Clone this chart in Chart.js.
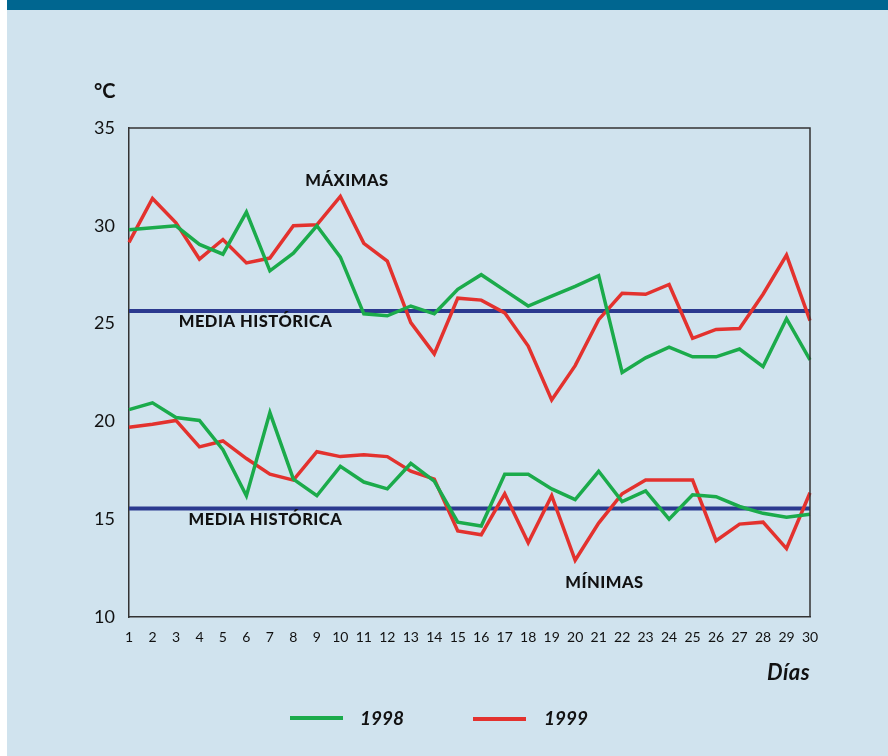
<!DOCTYPE html>
<html>
<head>
<meta charset="utf-8">
<script src="https://cdn.jsdelivr.net/npm/chart.js@4/dist/chart.umd.min.js"></script>
<style>
  html,body{margin:0;padding:0;background:#fff;}
  #wrap{position:relative;width:888px;height:756px;overflow:hidden;}
  #panel{position:absolute;left:7px;top:0;width:881px;height:756px;background:#d0e3ee;}
  #bar{position:absolute;left:7px;top:0;width:881px;height:10px;background:#006690;}
  canvas{position:absolute;left:0;top:0;}
  .lbl{position:absolute;font-family:Lato,"Open Sans",sans-serif;font-weight:bold;color:#111;white-space:nowrap;}
  .it{font-style:italic;}
  .leg{position:absolute;height:4px;}
</style>
</head>
<body>
<div id="wrap">
  <div id="panel"></div>
  <div id="bar"></div>
  <canvas id="chart" width="888" height="756"></canvas>
  <div class="lbl" style="left:94px;top:78px;font-size:20px;">°C</div>
  <div class="lbl it" style="left:767px;top:658px;font-size:22px;letter-spacing:0.5px;">Días</div>
  <div class="leg" style="left:290px;top:716px;width:53px;background:#1bab4b;"></div>
  <div class="lbl it" style="left:360px;top:706px;font-size:19px;">1998</div>
  <div class="leg" style="left:473px;top:717px;width:53px;background:#e3322e;"></div>
  <div class="lbl it" style="left:544px;top:706px;font-size:19px;">1999</div>
</div>
<script>
const days = ["1","2","3","4","5","6","7","8","9","10","11","12","13","14","15","16","17","18","19","20","21","22","23","24","25","26","27","28","29","30"];

const max1998 = [29.8,29.9,30.0,29.05,28.55,30.7,27.7,28.6,30.0,28.4,25.5,25.4,25.9,25.5,26.75,27.5,26.7,25.9,26.4,26.9,27.45,22.5,23.25,23.8,23.3,23.3,23.7,22.8,25.25,23.15];
const max1999 = [29.15,31.4,30.15,28.3,29.3,28.1,28.35,30.0,30.05,31.5,29.1,28.2,25.05,23.45,26.3,26.2,25.55,23.85,21.1,22.85,25.2,26.55,26.5,27.0,24.25,24.7,24.75,26.5,28.5,25.15];
const min1998 = [20.6,20.95,20.2,20.05,18.55,16.2,20.45,17.05,16.2,17.7,16.9,16.55,17.85,16.95,14.85,14.65,17.3,17.3,16.55,16.0,17.45,15.9,16.45,15.0,16.25,16.15,15.65,15.3,15.1,15.25];
const min1999 = [19.7,19.85,20.05,18.7,19.0,18.1,17.3,17.0,18.45,18.2,18.3,18.2,17.45,17.05,14.4,14.2,16.3,13.8,16.2,12.9,14.8,16.3,17.0,17.0,17.0,13.9,14.75,14.85,13.5,16.35];

const mediaMax = 25.65;
const mediaMin = 15.55;
const yTicks = [10,15,20,25,30,35];

const GREEN = "#1bab4b", RED = "#e3322e", NAVY = "#2b3a8f";

// annotations: text, day position, value
const notes = [
  ["MÁXIMAS", 10.28, 32.29],
  ["MEDIA HISTÓRICA", 6.39, 25.08],
  ["MEDIA HISTÓRICA", 6.81, 14.96],
  ["MÍNIMAS", 21.25, 11.74]
];

const extras = {
  id:"extras",
  beforeDatasetsDraw(chart){
    const {ctx, chartArea:a, scales:{x,y}} = chart;
    ctx.save();
    ctx.strokeStyle = NAVY;
    ctx.lineWidth = 4;
    [mediaMax, mediaMin].forEach(v=>{
      const py = y.getPixelForValue(v);
      ctx.beginPath(); ctx.moveTo(a.left, py); ctx.lineTo(a.right, py); ctx.stroke();
    });
    ctx.restore();
  },
  afterDraw(chart){
    const {ctx, chartArea:a, scales:{x,y}} = chart;
    ctx.save();
    ctx.strokeStyle = "#333";
    ctx.lineWidth = 1.5;
    ctx.beginPath();
    ctx.moveTo(a.left, a.top); ctx.lineTo(a.right, a.top); ctx.lineTo(a.right, a.bottom);
    ctx.stroke();
    ctx.fillStyle = "#111";
    ctx.font = "900 16.5px Lato, 'Open Sans', sans-serif";
    ctx.letterSpacing = "0.5px";
    ctx.textAlign = "center";
    ctx.textBaseline = "middle";
    notes.forEach(n=>{
      const px = x.left + (n[1]-1)/(days.length-1)*(x.right-x.left);
      ctx.fillText(n[0], px, y.getPixelForValue(n[2]));
    });
    ctx.restore();
  }
};

new Chart(document.getElementById("chart"),{
  type:"line",
  data:{
    labels:days,
    datasets:[
      {label:"1998", data:max1998, borderColor:GREEN},
      {label:"1999", data:max1999, borderColor:RED},
      {label:"1998 min", data:min1998, borderColor:GREEN},
      {label:"1999 min", data:min1999, borderColor:RED}
    ]
  },
  options:{
    responsive:false,
    animation:false,
    layout:{padding:{left:0,right:78,top:128,bottom:0}},
    elements:{
      line:{borderWidth:3.5, tension:0, borderJoinStyle:"miter"},
      point:{radius:0}
    },
    plugins:{legend:{display:false}, tooltip:{enabled:false}},
    scales:{
      x:{
        offset:false,
        grid:{display:false, drawOnChartArea:false, drawTicks:true, tickLength:7, tickColor:"#333", tickWidth:1.5},
        border:{color:"#333", width:1.5},
        ticks:{color:"#111", font:{family:"Lato", size:14}, padding:5, maxRotation:0, autoSkip:false},
        afterFit(s){ s.height = 139; }
      },
      y:{
        min:10, max:35,
        afterBuildTicks(s){ s.ticks = yTicks.map(v=>({value:v})); },
        grid:{display:false, drawOnChartArea:false, drawTicks:true, tickLength:8, tickColor:"#333", tickWidth:1.5},
        border:{color:"#333", width:1.5},
        ticks:{color:"#111", font:{family:"Lato", size:18}, padding:6},
        afterFit(s){ s.width = 129; }
      }
    }
  },
  plugins:[extras]
});
</script>
</body>
</html>
